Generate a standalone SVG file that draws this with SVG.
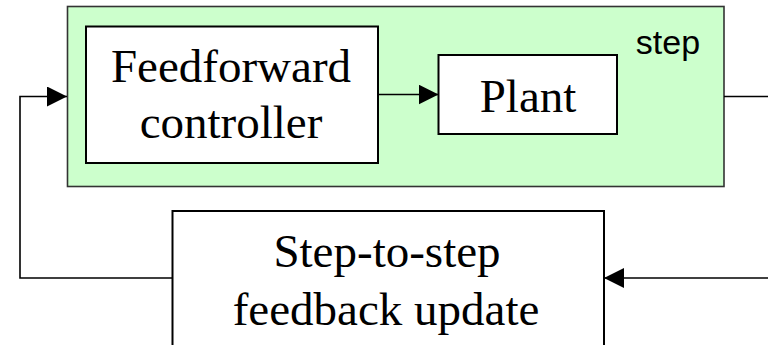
<svg xmlns="http://www.w3.org/2000/svg" width="768" height="345" viewBox="0 0 768 345">
<defs>
<style>
.box{fill:#ffffff;stroke:#000000;stroke-width:2}
.serif{font-family:"Liberation Serif","Times New Roman",serif;font-size:47px;fill:#000;text-anchor:middle}
.wire{fill:none;stroke:#000;stroke-width:1.6}
</style>
<marker id="ah" markerWidth="20" markerHeight="20" refX="20" refY="10" orient="auto" markerUnits="userSpaceOnUse">
<path d="M0,0 L20,10 L0,20 Z" fill="#000"/>
</marker>
</defs>
<g id="step-group">
<rect x="67.5" y="6.5" width="656.5" height="180" fill="#ccffcc" stroke="#333333" stroke-width="1.6"/>
<text x="668" y="54" font-family="Liberation Sans, Arial, sans-serif" font-size="34" text-anchor="middle" fill="#000">step</text>
</g>
<g id="feedforward">
<rect class="box" x="86" y="26.5" width="292" height="136.5"/>
<text class="serif" x="231" y="82">Feedforward</text>
<text class="serif" x="231" y="138">controller</text>
</g>
<g id="plant">
<rect class="box" x="438.5" y="55" width="178.5" height="79"/>
<text class="serif" x="528" y="112">Plant</text>
</g>
<g id="feedback">
<rect class="box" x="172.5" y="211" width="431.5" height="150"/>
<text class="serif" x="387" y="267">Step-to-step</text>
<text class="serif" x="386" y="325">feedback update</text>
</g>
<g id="connectors">
<path class="wire" d="M378,94.5 L438.5,94.5" marker-end="url(#ah)"/>
<path class="wire" d="M724,96.5 L768,96.5"/>
<path class="wire" d="M768,278 L604,278" marker-end="url(#ah)"/>
<path class="wire" d="M172.5,278 L20,278 L20,96.5 L67,96.5" marker-end="url(#ah)"/>
</g>
</svg>
